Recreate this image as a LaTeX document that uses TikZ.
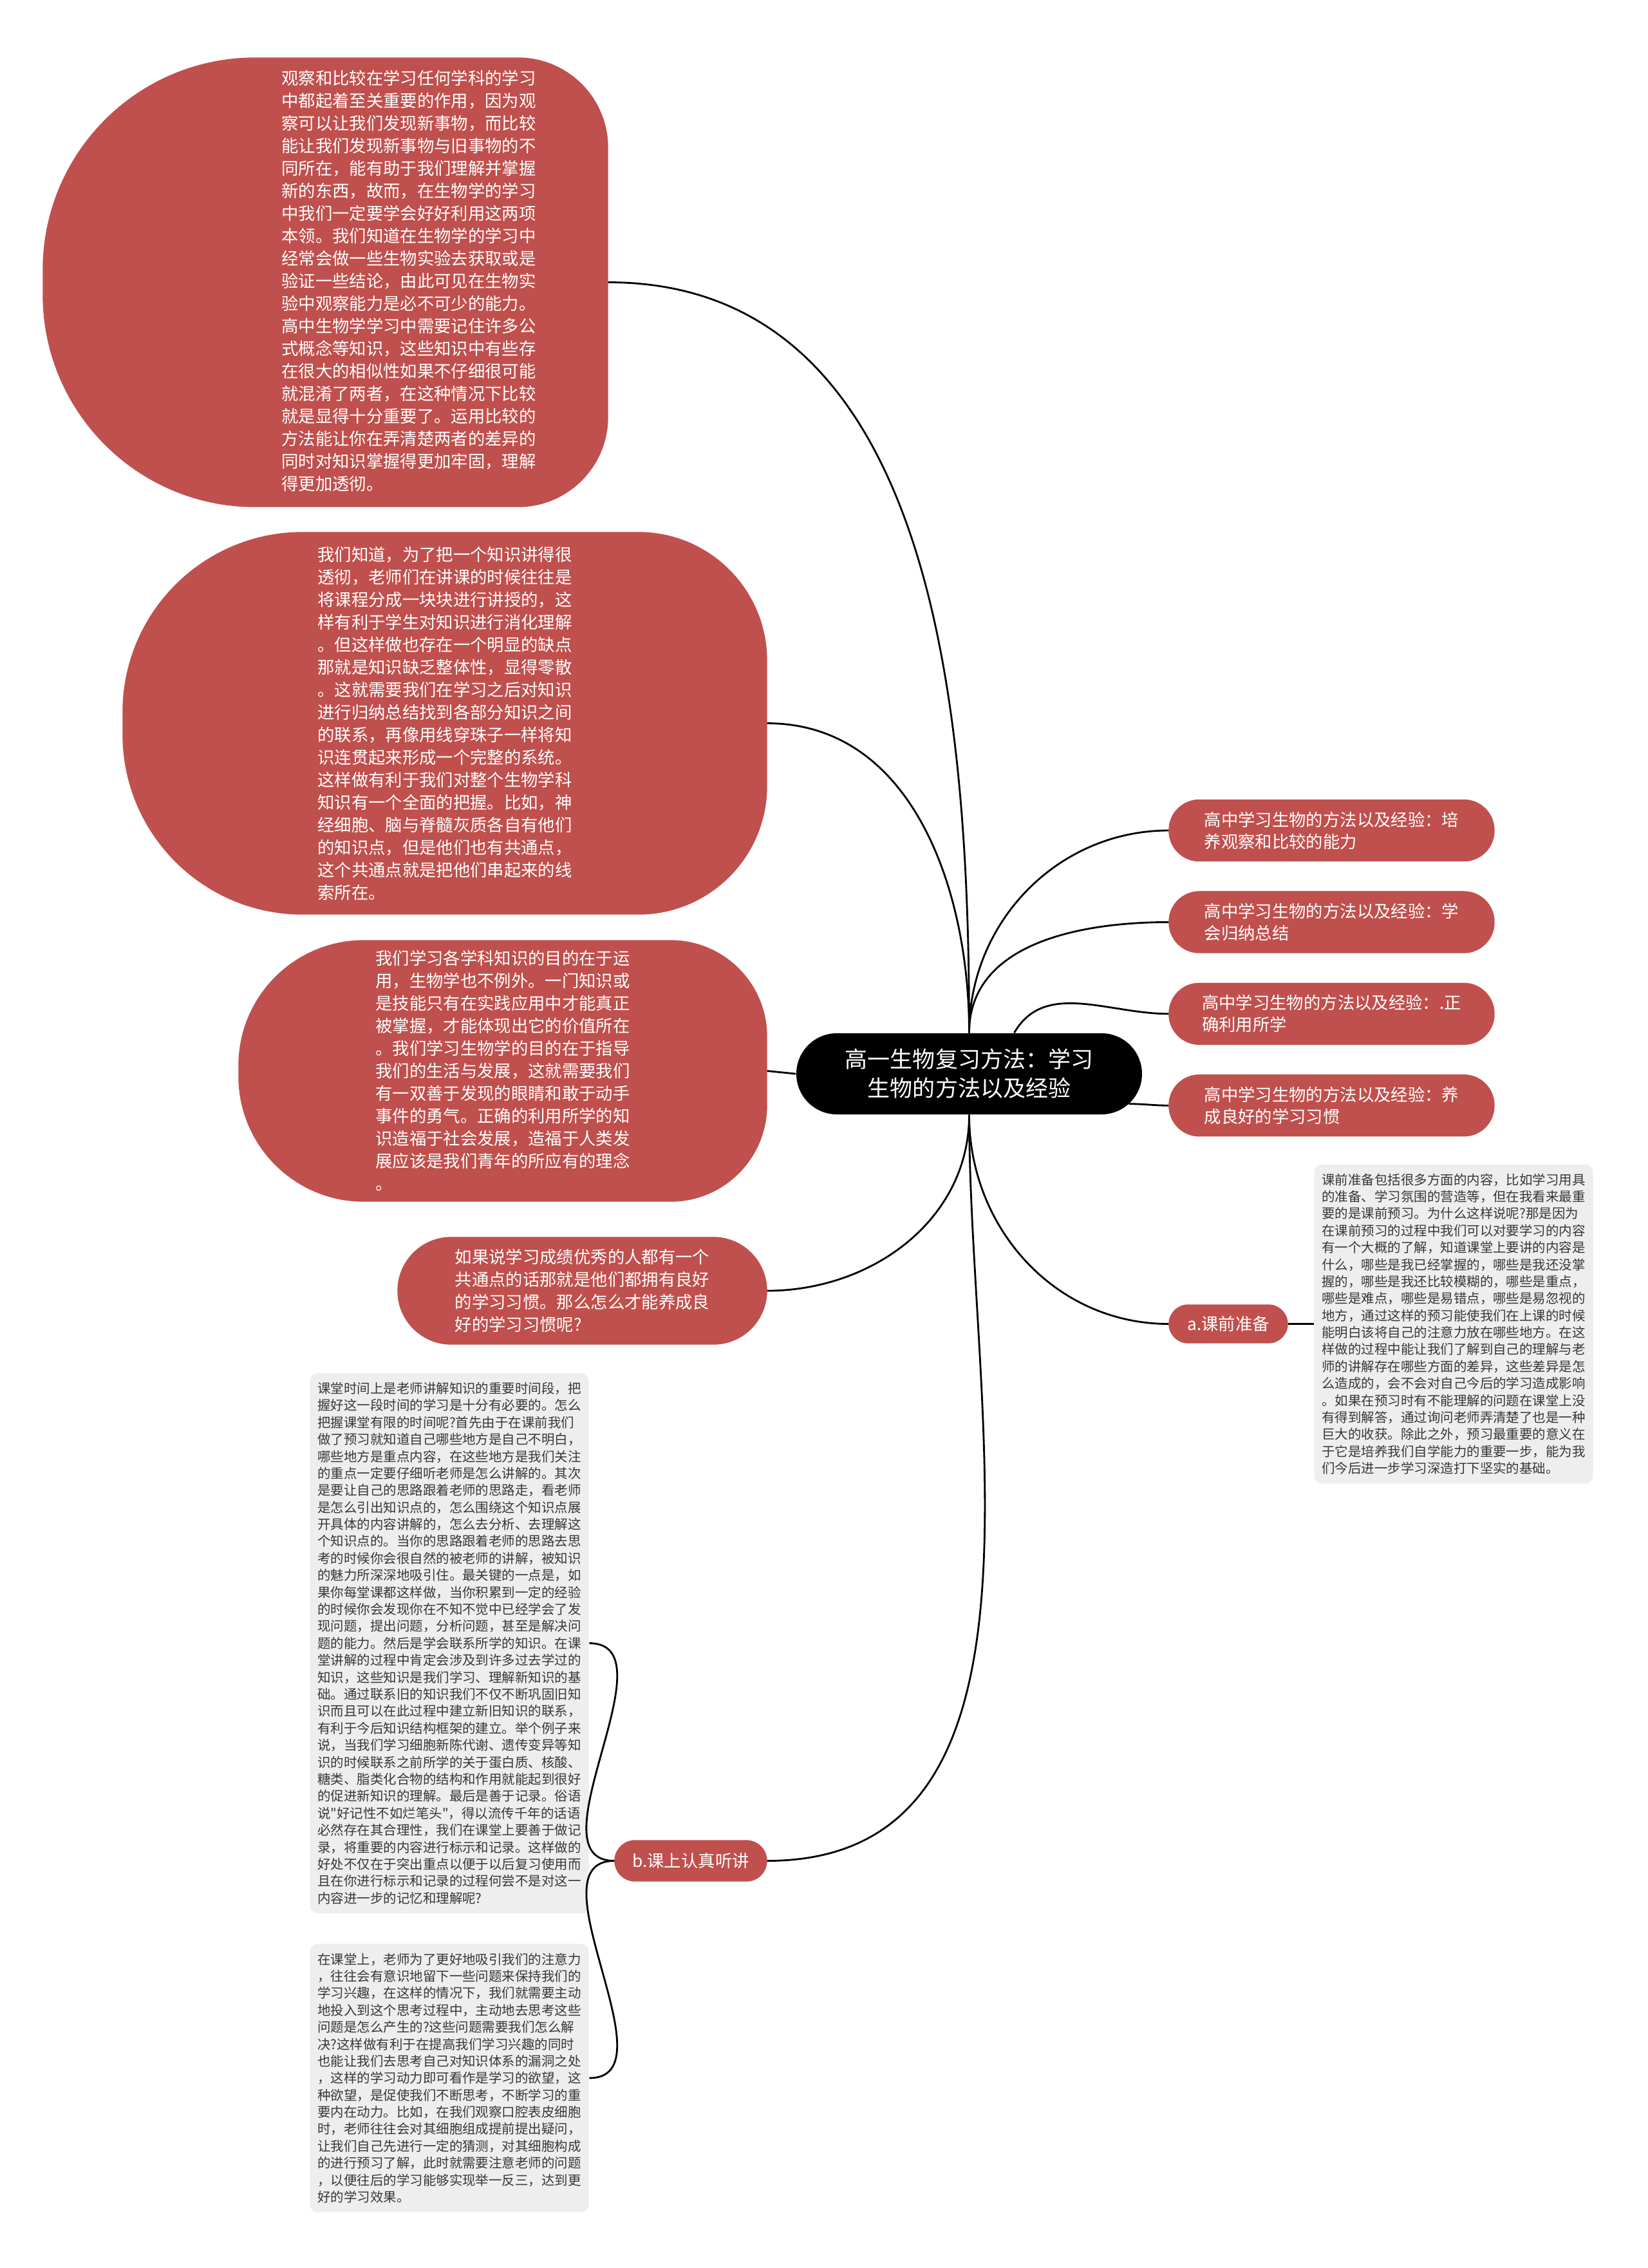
\documentclass[tikz,border=0pt]{standalone}
\usepackage{fontspec}
\newfontfamily\cjk{Noto Sans CJK SC}
\usepackage{tikz}
\usetikzlibrary{positioning, backgrounds}
\definecolor{nodered}{RGB}{192,80,77}
\definecolor{notegray}{RGB}{238,238,238}
\definecolor{notetext}{RGB}{55,55,55}

% bubble fill: round left corners (#2), tighter right corners (#3)
\newcommand{\blobfill}[3]{%
  \fill[nodered] ([xshift=#2]#1.north west) -- ([xshift=-#3]#1.north east)
    arc[start angle=90, end angle=0, radius=#3] -- ([yshift=#3]#1.south east)
    arc[start angle=0, end angle=-90, radius=#3] -- ([xshift=#2]#1.south west)
    arc[start angle=270, end angle=180, radius=#2] -- ([yshift=-#2]#1.north west)
    arc[start angle=180, end angle=90, radius=#2] -- cycle;}

\begin{document}
\begin{tikzpicture}[
    bubble/.style={rectangle, draw=nodered, fill=nodered, text=white, align=left, font=\cjk\fontsize{7.5}{9.96}\selectfont},
    blob/.style={rectangle, text=white, align=left, font=\cjk\fontsize{7.5}{9.96}\selectfont},
    topic/.style={bubble, minimum width=5.05cm, minimum height=0.95cm, rounded corners=0.47cm, font=\cjk\fontsize{7.5}{9.7}\selectfont},
    mainbox/.style={rectangle, fill=black, text=white, align=center, minimum width=5.37cm, minimum height=1.26cm, rounded corners=0.63cm, font=\cjk\fontsize{9.96}{12.8}\selectfont},
    notebox/.style={rectangle, fill=notegray, text=notetext, rounded corners=0.12cm, align=left, minimum width=4.3cm, font=\cjk\fontsize{5.83}{7.51}\selectfont},
    link/.style={line width=0.8pt}
]
    % Canvas
    \begin{scope}[on background layer]
        \fill[white] (0,0) rectangle (25.6,-35.23);
    \end{scope}
    \useasboundingbox (0,0) rectangle (25.6,-35.23);

    % Center
    \node[mainbox] (center) at (15.055,-16.68) {高一生物复习方法：学习\\生物的方法以及经验};

    % Left bubbles
    \node[blob, minimum width=8.77cm, minimum height=6.97cm] (observe) at (5.055,-4.385) {};
    \node[blob] (observetext) at (6.35,-4.365) {观察和比较在学习任何学科的学习\\中都起着至关重要的作用，因为观\\察可以让我们发现新事物，而比较\\能让我们发现新事物与旧事物的不\\同所在，能有助于我们理解并掌握\\新的东西，故而，在生物学的学习\\中我们一定要学会好好利用这两项\\本领。我们知道在生物学的学习中\\经常会做一些生物实验去获取或是\\验证一些结论，由此可见在生物实\\验中观察能力是必不可少的能力。\\高中生物学学习中需要记住许多公\\式概念等知识，这些知识中有些存\\在很大的相似性如果不仔细很可能\\就混淆了两者，在这种情况下比较\\就是显得十分重要了。运用比较的\\方法能让你在弄清楚两者的差异的\\同时对知识掌握得更加牢固，理解\\得更加透彻。};
    \node[blob, minimum width=10cm, minimum height=5.93cm] (summary) at (6.91,-11.235) {我们知道，为了把一个知识讲得很\\透彻，老师们在讲课的时候往往是\\将课程分成一块块进行讲授的，这\\样有利于学生对知识进行消化理解\\。但这样做也存在一个明显的缺点\\那就是知识缺乏整体性，显得零散\\。这就需要我们在学习之后对知识\\进行归纳总结找到各部分知识之间\\的联系，再像用线穿珠子一样将知\\识连贯起来形成一个完整的系统。\\这样做有利于我们对整个生物学科\\知识有一个全面的把握。比如，神\\经细胞、脑与脊髓灰质各自有他们\\的知识点，但是他们也有共通点，\\这个共通点就是把他们串起来的线\\索所在。};
    \node[blob, minimum width=8.2cm, minimum height=4.05cm] (apply) at (7.81,-16.635) {我们学习各学科知识的目的在于运\\用，生物学也不例外。一门知识或\\是技能只有在实践应用中才能真正\\被掌握，才能体现出它的价值所在\\。我们学习生物学的目的在于指导\\我们的生活与发展，这就需要我们\\有一双善于发现的眼睛和敢于动手\\事件的勇气。正确的利用所学的知\\识造福于社会发展，造福于人类发\\展应该是我们青年的所应有的理念\\。};
    \node[bubble, minimum width=5.73cm, minimum height=1.66cm, rounded corners=0.83cm] (habit) at (9.045,-20.05) {如果说学习成绩优秀的人都有一个\\共通点的话那就是他们都拥有良好\\的学习习惯。那么怎么才能养成良\\好的学习习惯呢?};

    % Bubble shapes behind the text
    \begin{scope}[on background layer]
        \blobfill{observe}{3.3cm}{1.4cm}
        \blobfill{summary}{2.8cm}{2.0cm}
        \blobfill{apply}{1.95cm}{1.5cm}
    \end{scope}

    % Right topics
    \node[topic] (topicA) at (20.685,-12.90) {高中学习生物的方法以及经验：培\\养观察和比较的能力};
    \node[topic, below=0.46cm of topicA] (topicB) {高中学习生物的方法以及经验：学\\会归纳总结};
    \node[topic, below=0.46cm of topicB] (topicC) {高中学习生物的方法以及经验：.正\\确利用所学};
    \node[topic, below=0.46cm of topicC] (topicD) {高中学习生物的方法以及经验：养\\成良好的学习习惯};

    % Habit branches
    \node[bubble, minimum width=1.84cm, minimum height=0.59cm, rounded corners=0.295cm, font=\cjk\fontsize{7.5}{9.7}\selectfont] (prep) at (19.08,-20.565) {a.课前准备};
    \node[notebox, minimum height=4.96cm, right=0.4cm of prep] (prepnote) {课前准备包括很多方面的内容，比如学习用具\\的准备、学习氛围的营造等，但在我看来最重\\要的是课前预习。为什么这样说呢?那是因为\\在课前预习的过程中我们可以对要学习的内容\\有一个大概的了解，知道课堂上要讲的内容是\\什么，哪些是我已经掌握的，哪些是我还没掌\\握的，哪些是我还比较模糊的，哪些是重点，\\哪些是难点，哪些是易错点，哪些是易忽视的\\地方，通过这样的预习能使我们在上课的时候\\能明白该将自己的注意力放在哪些地方。在这\\样做的过程中能让我们了解到自己的理解与老\\师的讲解存在哪些方面的差异，这些差异是怎\\么造成的，会不会对自己今后的学习造成影响\\。如果在预习时有不能理解的问题在课堂上没\\有得到解答，通过询问老师弄清楚了也是一种\\巨大的收获。除此之外，预习最重要的意义在\\于它是培养我们自学能力的重要一步，能为我\\们今后进一步学习深造打下坚实的基础。};

    \node[bubble, minimum width=2.36cm, minimum height=0.63cm, rounded corners=0.315cm, font=\cjk\fontsize{7.5}{9.7}\selectfont] (listen) at (10.73,-28.905) {b.课上认真听讲};
    \node[notebox, minimum height=8.39cm] (listennote) at (6.98,-25.525) {课堂时间上是老师讲解知识的重要时间段，把\\握好这一段时间的学习是十分有必要的。怎么\\把握课堂有限的时间呢?首先由于在课前我们\\做了预习就知道自己哪些地方是自己不明白，\\哪些地方是重点内容，在这些地方是我们关注\\的重点一定要仔细听老师是怎么讲解的。其次\\是要让自己的思路跟着老师的思路走，看老师\\是怎么引出知识点的，怎么围绕这个知识点展\\开具体的内容讲解的，怎么去分析、去理解这\\个知识点的。当你的思路跟着老师的思路去思\\考的时候你会很自然的被老师的讲解，被知识\\的魅力所深深地吸引住。最关键的一点是，如\\果你每堂课都这样做，当你积累到一定的经验\\的时候你会发现你在不知不觉中已经学会了发\\现问题，提出问题，分析问题，甚至是解决问\\题的能力。然后是学会联系所学的知识。在课\\堂讲解的过程中肯定会涉及到许多过去学过的\\知识，这些知识是我们学习、理解新知识的基\\础。通过联系旧的知识我们不仅不断巩固旧知\\识而且可以在此过程中建立新旧知识的联系，\\有利于今后知识结构框架的建立。举个例子来\\说，当我们学习细胞新陈代谢、遗传变异等知\\识的时候联系之前所学的关于蛋白质、核酸、\\糖类、脂类化合物的结构和作用就能起到很好\\的促进新知识的理解。最后是善于记录。俗语\\说"好记性不如烂笔头"，得以流传千年的话语\\必然存在其合理性，我们在课堂上要善于做记\\录，将重要的内容进行标示和记录。这样做的\\好处不仅在于突出重点以便于以后复习使用而\\且在你进行标示和记录的过程何尝不是对这一\\内容进一步的记忆和理解呢?};
    \node[notebox, minimum height=4.17cm, below=0.46cm of listennote] (listennoteB) {在课堂上，老师为了更好地吸引我们的注意力\\，往往会有意识地留下一些问题来保持我们的\\学习兴趣，在这样的情况下，我们就需要主动\\地投入到这个思考过程中，主动地去思考这些\\问题是怎么产生的?这些问题需要我们怎么解\\决?这样做有利于在提高我们学习兴趣的同时\\也能让我们去思考自己对知识体系的漏洞之处\\，这样的学习动力即可看作是学习的欲望，这\\种欲望，是促使我们不断思考，不断学习的重\\要内在动力。比如，在我们观察口腔表皮细胞\\时，老师往往会对其细胞组成提前提出疑问，\\让我们自己先进行一定的猜测，对其细胞构成\\的进行预习了解，此时就需要注意老师的问题\\，以便往后的学习能够实现举一反三，达到更\\好的学习效果。};

    % Connectors
    \draw[link] (center.north) to[out=90, in=0] (observe.east);
    \draw[link] (center.north) to[out=90, in=0] (summary.east);
    \draw[link] (center.west) -- (apply.east);
    \draw[link] (center.south) to[out=-90, in=0] (habit.east);
    \draw[link] (center.north) to[out=90, in=180] (topicA.west);
    \draw[link] (center.north) to[out=90, in=180] (topicB.west);
    \draw[link] ([xshift=0.7cm]center.north) to[out=60, in=180] (topicC.west);
    \draw[link] ([xshift=-0.21cm, yshift=0.17cm]center.south east) to[out=0, in=180] (topicD.west);
    \draw[link] (center.south) to[out=-90, in=180] (prep.west);
    \draw[link] (center.south) to[out=-90, in=0] (listen.east);
    \draw[link] (prep.east) -- (prepnote.west);
    \draw[link] (listen.west) to[out=180, in=0] (listennote.east);
    \draw[link] (listen.west) to[out=180, in=0] (listennoteB.east);
\end{tikzpicture}
\end{document}
